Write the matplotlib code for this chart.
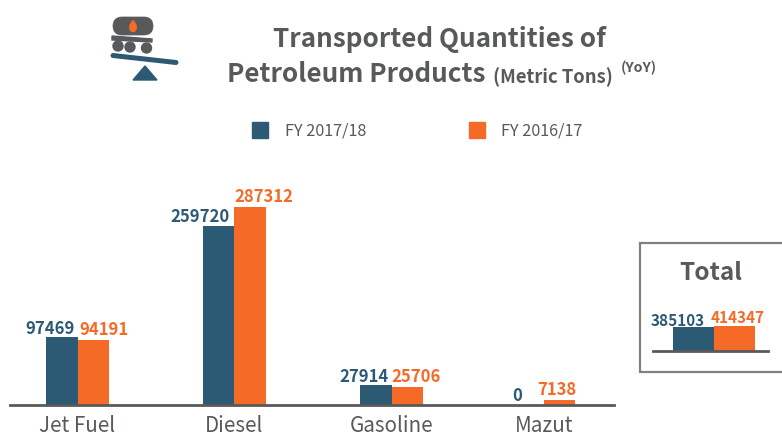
import matplotlib
matplotlib.use('Agg')
import matplotlib.pyplot as plt
from matplotlib.patches import Rectangle, FancyBboxPatch, Circle, Polygon, Ellipse

categories = ['Jet Fuel', 'Diesel', 'Gasoline', 'Mazut']
fy1718 = [97469, 259720, 27914, 0]
fy1617 = [94191, 287312, 25706, 7138]
total_labels = ['FY 2017/18', 'FY 2016/17']
totals = [385103, 414347]

BLUE = '#2c5a75'
ORANGE = '#f56a26'
GREY = '#58595b'
W, H = 782, 435

plt.rcParams['font.family'] = ['Noto Sans CJK JP', 'DejaVu Sans']

fig = plt.figure(figsize=(W / 100, H / 100), dpi=100)


def px_axes(left, top, right, bottom):
    # axes placed with reference pixel coordinates
    return fig.add_axes([left / W, 1 - bottom / H, (right - left) / W, (bottom - top) / H])


# --- main bars ---
ax = px_axes(10, 150, 614, 405.5)
step = 157
bar_w = 31.5 / step
xs = [0, 1, 2, 2.97]
# label offsets from the category centre, in units of step (Mazut sits differently)
blue_off = [-0.015, -0.03, -0.02, -0.135]
orange_off = [0.012, 0.0, 0.0, -0.04]
ax.set_xlim(-67.5 / step, (614 - 77.5) / step)
ax.set_ylim(0, 255.5 / 0.689 * 1000)
for x, a, b, bo, oo in zip(xs, fy1718, fy1617, blue_off, orange_off):
    ax.bar(x - bar_w / 2, a, bar_w, color=BLUE)
    ax.bar(x + bar_w / 2, b, bar_w, color=ORANGE)
    ax.text(x + bo, a + 1000, str(a), color=BLUE, fontsize=12, fontweight='bold',
            ha='right', va='bottom')
    ax.text(x + oo, b + 2000, str(b), color=ORANGE, fontsize=12, fontweight='bold',
            ha='left', va='bottom')
ax.set_xticks(xs)
ax.set_xticklabels(categories, fontsize=14.8, color=GREY)
ax.tick_params(axis='x', length=0, pad=7)
ax.set_yticks([])
for s in ['top', 'left', 'right']:
    ax.spines[s].set_visible(False)
ax.spines['bottom'].set_color(GREY)
ax.spines['bottom'].set_linewidth(2)

# --- overlay in pixel coordinates: title, legend, icon, total box ---
ov = fig.add_axes([0, 0, 1, 1], zorder=-1)
ov.set_xlim(0, W)
ov.set_ylim(H, 0)
ov.axis('off')

ov.text(439.5, 39.5, 'Transported Quantities of', fontsize=18.8, fontweight='bold', color=GREY,
        ha='center', va='center')
ov.text(227, 74.5, 'Petroleum Products', fontsize=18.8, fontweight='bold', color=GREY, ha='left', va='center')
ov.text(493, 77, '(Metric Tons)', fontsize=13.3, fontweight='bold', color=GREY, ha='left', va='center')
ov.text(621, 68, '(YoY)', fontsize=10.2, fontweight='bold', color=GREY, ha='left', va='center')

ov.add_patch(Rectangle((252, 123), 16, 16, color=BLUE))
ov.text(285, 131, total_labels[0], fontsize=11.7, color=GREY, ha='left', va='center')
ov.add_patch(Rectangle((469, 123), 16, 16, color=ORANGE))
ov.text(501, 131, total_labels[1], fontsize=11.7, color=GREY, ha='left', va='center')

# icon
ov.add_patch(FancyBboxPatch((113, 18), 40, 18, boxstyle='round,pad=0,rounding_size=9', fc=GREY, ec=GREY, lw=0.5))
ov.add_patch(Ellipse((133, 28.5), 6.5, 8, color=ORANGE))
ov.add_patch(Polygon([(130, 26), (133, 21.5), (136, 26)], color=ORANGE))
ov.add_patch(Polygon([(112, 37), (152, 40), (152, 43), (112, 41)], color=GREY))
for cx, cy in [(118, 47), (130, 48), (146.5, 49)]:
    ov.add_patch(Circle((cx, cy), 5, color=GREY))
ov.plot([113, 176], [56.5, 63.5], color=BLUE, lw=3.6, solid_capstyle='round')
ov.add_patch(Polygon([(133, 81), (145, 67), (157, 81)], color=BLUE))

# total box
ov.add_patch(Rectangle((640, 244), 160, 129, fc='white', ec='#808080', lw=1.6))
ov.text(711, 273.5, 'Total', fontsize=17.5, fontweight='bold', color=GREY, ha='center', va='center')

# --- total bars ---
ax2 = px_axes(653, 300, 768, 351.5)
ax2.set_xlim(-20 / 41 - 0.5, 95 / 41 - 0.5)
ax2.set_ylim(0, 51.5 / 25 * totals[1])
ax2.patch.set_alpha(0)
ax2.bar([0, 1], totals, 1.0, color=[BLUE, ORANGE])
ax2.text(-0.39, totals[0] - 18000, str(totals[0]), color=BLUE, fontsize=11, fontweight='bold',
         ha='center', va='bottom')
ax2.text(1.085, totals[1] + 12000, str(totals[1]), color=ORANGE, fontsize=11, fontweight='bold',
         ha='center', va='bottom')
ax2.set_xticks([])
ax2.set_yticks([])
for s in ['top', 'left', 'right']:
    ax2.spines[s].set_visible(False)
ax2.spines['bottom'].set_color(GREY)
ax2.spines['bottom'].set_linewidth(2)

fig.savefig('out.png', dpi=100)
